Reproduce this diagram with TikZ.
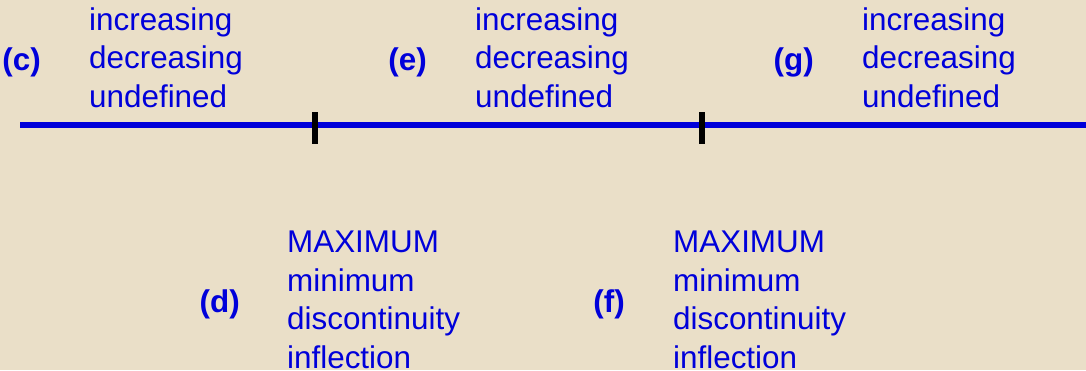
\documentclass[tikz,border=0pt]{standalone}
\usepackage{fontspec}
\setmainfont{Liberation Sans}
\usetikzlibrary{positioning}
\definecolor{paper}{RGB}{234,223,200}
\definecolor{ink}{RGB}{0,0,218}

\begin{document}
\begin{tikzpicture}[x=1pt,y=-1pt,
  txt/.style={anchor=base west,inner sep=0pt,align=left,text=ink,font=\fontsize{31.4}{38.5}\selectfont},
  lbl/.style={inner sep=0pt,yshift=-5pt,text=ink,font=\fontsize{31.4}{38.5}\selectfont\bfseries},
  axis/.style={draw=ink,line width=5.5pt},
  tick/.style={draw=black,line width=6pt}]
\fill[paper] (0,0) rectangle (1086,370);
\useasboundingbox (0,0) rectangle (1086,370);
% number line with two marks
\coordinate (axL) at (20,125);
\coordinate (axR) at (1086,125);
\coordinate (mk1) at (315,125);
\coordinate (mk2) at (702,125);
\draw[axis] (axL) -- (axR);
\draw[tick] ([yshift=13pt]mk1) -- ([yshift=-19pt]mk1);
\draw[tick] ([yshift=13pt]mk2) -- ([yshift=-19pt]mk2);
% intervals above the line (anchored on the last line)
\node[txt] (txtc) at (89,107) {increasing\\decreasing\\undefined};
\node[lbl,left=48pt of txtc] (labc) {(c)};
\node[txt] (txte) at (475,107) {increasing\\decreasing\\undefined};
\node[lbl,left=48pt of txte] (labe) {(e)};
\node[txt] (txtg) at (862,107) {increasing\\decreasing\\undefined};
\node[lbl,left=48pt of txtg] (labg) {(g)};
% points below the line
\node[txt] (txtd) at (287,368) {MAXIMUM\\minimum\\discontinuity\\inflection};
\node[lbl,left=47pt of txtd] (labd) {(d)};
\node[txt] (txtf) at (673,368) {MAXIMUM\\minimum\\discontinuity\\inflection};
\node[lbl,left=48pt of txtf] (labf) {(f)};
\end{tikzpicture}
\end{document}
